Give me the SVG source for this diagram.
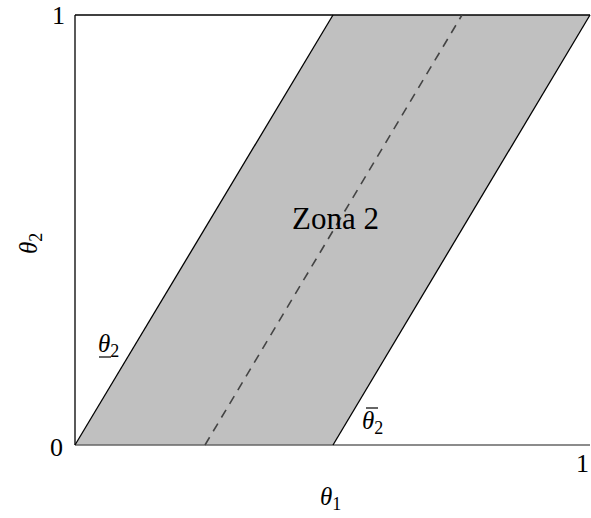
<svg xmlns="http://www.w3.org/2000/svg" width="591" height="518" viewBox="0 0 591 518">
<style>
text{font-family:'Liberation Serif','DejaVu Serif','Times New Roman',serif;fill:#000}
.t{font-size:26px}
.it{font-style:italic;font-size:25px}
.sub{font-style:normal;font-size:18px}
</style>
<rect width="591" height="518" fill="#fff"/>
<g id="zone">
<polygon points="75,445 333,15 590,15 333,445" fill="#c0c0c0"/>
</g>
<g id="connectors">
<line x1="75" y1="15" x2="75" y2="445" stroke="#000" stroke-width="1.3"/>
<line x1="75" y1="15" x2="590" y2="15" stroke="#000" stroke-width="1.3"/>
<line x1="75" y1="445" x2="590" y2="445" stroke="#666" stroke-width="1.5"/>
<line x1="75" y1="445" x2="333" y2="15" stroke="#000" stroke-width="1.3"/>
<line x1="333" y1="445" x2="590" y2="15" stroke="#000" stroke-width="1.3"/>
<line x1="205" y1="445" x2="462" y2="15" stroke="#444" stroke-width="1.6" stroke-dasharray="9,7"/>
</g>
<g id="labels" font-family="Liberation Serif, DejaVu Serif, serif">
<text class="t" x="52" y="24">1</text>
<text class="t" x="50" y="456">0</text>
<text class="t" x="576" y="472">1</text>
<text class="it" x="320" y="505">θ<tspan class="sub" dy="5">1</tspan></text>
<text class="it" transform="translate(37,254) rotate(-90)">θ<tspan class="sub" dy="5">2</tspan></text>
<text style="font-size:31px" x="292" y="229">Zona 2</text>
<text class="it" x="98" y="352">θ<tspan class="sub" dy="5">2</tspan></text>
<line x1="99" y1="357" x2="111" y2="357" stroke="#000" stroke-width="1.2"/>
<text class="it" x="362" y="429">θ<tspan class="sub" dy="5">2</tspan></text>
<line x1="366" y1="408" x2="378" y2="408" stroke="#000" stroke-width="1.2"/>
</g>
</svg>
